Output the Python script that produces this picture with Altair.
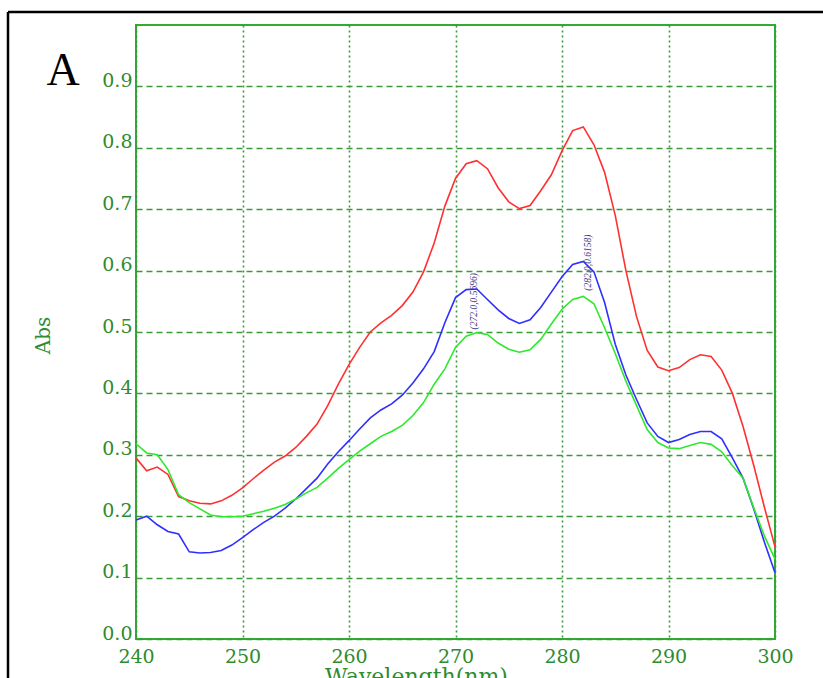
import altair as alt
import pandas as pd

wavelengths = list(range(240, 301))

red = [0.295, 0.274, 0.280, 0.268, 0.232, 0.225, 0.221, 0.220, 0.225, 0.234,
       0.246, 0.261, 0.275, 0.288, 0.298, 0.312, 0.330, 0.350, 0.380, 0.415,
       0.447, 0.475, 0.500, 0.515, 0.527, 0.543, 0.565, 0.598, 0.645, 0.705,
       0.750, 0.774, 0.779, 0.766, 0.735, 0.712, 0.701, 0.706, 0.730, 0.756,
       0.795, 0.828, 0.834, 0.805, 0.760, 0.690, 0.600, 0.525, 0.470, 0.443,
       0.437, 0.442, 0.455, 0.463, 0.460, 0.438, 0.400, 0.346, 0.283, 0.215,
       0.150]

blue = [0.194, 0.200, 0.186, 0.175, 0.171, 0.142, 0.140, 0.141, 0.144, 0.153,
        0.165, 0.178, 0.190, 0.200, 0.213, 0.228, 0.245, 0.262, 0.285, 0.305,
        0.323, 0.342, 0.360, 0.373, 0.383, 0.397, 0.417, 0.440, 0.468, 0.515,
        0.556, 0.569, 0.570, 0.553, 0.536, 0.522, 0.514, 0.520, 0.540, 0.565,
        0.590, 0.610, 0.615, 0.598, 0.548, 0.480, 0.430, 0.390, 0.352, 0.330,
        0.320, 0.325, 0.333, 0.338, 0.338, 0.326, 0.295, 0.262, 0.212, 0.158,
        0.108]

green = [0.318, 0.303, 0.300, 0.276, 0.235, 0.222, 0.212, 0.202, 0.199, 0.199,
         0.200, 0.204, 0.208, 0.213, 0.219, 0.228, 0.238, 0.247, 0.262, 0.278,
         0.292, 0.306, 0.318, 0.330, 0.338, 0.348, 0.364, 0.385, 0.415, 0.440,
         0.475, 0.493, 0.499, 0.496, 0.482, 0.472, 0.467, 0.471, 0.488, 0.513,
         0.537, 0.553, 0.558, 0.546, 0.507, 0.465, 0.420, 0.380, 0.341, 0.320,
         0.311, 0.310, 0.315, 0.320, 0.317, 0.305, 0.282, 0.262, 0.214, 0.168,
         0.130]

series_names = ["red", "blue", "green"]
series_colors = ["#ff3030", "#2f2fff", "#2ee82e"]

ann_x = [271.7, 282.4]
ann_y = [0.550, 0.613]
ann_text = ["(272.0,0.5696)", "(282.0,0.6158)"]

x_ticks = [240, 250, 260, 270, 280, 290, 300]
y_ticks = [0.0, 0.1, 0.2, 0.3, 0.4, 0.5, 0.6, 0.7, 0.8, 0.9]

rows = []
for name, vals in zip(series_names, [red, blue, green]):
    for w, v in zip(wavelengths, vals):
        rows.append({"wl": w, "abs": v, "series": name})
df = pd.DataFrame(rows)
ann_df = pd.DataFrame({"wl": ann_x, "abs": ann_y, "label": ann_text})
panel_df = pd.DataFrame({"t": ["A"]})

GRID = "#3a9a3a"
LABEL = "#2e8b2e"

x_scale = alt.Scale(domain=[240, 300], nice=False, zero=False)
y_scale = alt.Scale(domain=[0, 1.0], nice=False)

x_axis = alt.Axis(values=x_ticks, grid=True, gridDash=[2, 3], gridColor=GRID,
                  gridWidth=1.6, gridOpacity=1, domain=False, ticks=False,
                  labelFont="DejaVu Serif", labelFontSize=19, labelColor=LABEL,
                  labelPadding=8, labelFlush=False, labelOverlap=False,
                  title="Wavelength(nm)", titleFont="DejaVu Serif",
                  titleFontSize=22, titleColor=LABEL, titleFontWeight="normal",
                  titleX=280, titleY=27, titleBaseline="top", titleAlign="center")
y_axis = alt.Axis(values=y_ticks, format=".1f", grid=True, gridDash=[6, 4],
                  gridColor=GRID, gridWidth=1.6, gridOpacity=1, domain=False,
                  ticks=False, labelFont="DejaVu Serif", labelFontSize=19,
                  labelColor=LABEL, labelPadding=4, labelBaseline="alphabetic",
                  labelOverlap=False, labelFlush=False,
                  title="Abs", titleFont="DejaVu Serif", titleFontSize=20,
                  titleColor=LABEL, titleFontWeight="normal",
                  titleX=-93, titleY=310, titleAngle=270,
                  titleBaseline="middle", titleAlign="center")

lines = alt.Chart(df).mark_line(strokeWidth=1.6).encode(
    x=alt.X("wl:Q", scale=x_scale, axis=x_axis),
    y=alt.Y("abs:Q", scale=y_scale, axis=y_axis),
    color=alt.Color("series:N", scale=alt.Scale(domain=series_names, range=series_colors), legend=None),
    order=alt.Order("wl:Q"),
)

ann = alt.Chart(ann_df).mark_text(angle=270, fontSize=9.5, font="Liberation Serif",
                                  fontStyle="italic", color="#3a3a8a",
                                  align="center", baseline="middle").encode(
    x=alt.X("wl:Q", scale=x_scale),
    y=alt.Y("abs:Q", scale=y_scale),
    text="label:N",
)

panel = alt.Chart(panel_df).mark_text(fontSize=46, font="Liberation Serif",
                                      color="black", align="center",
                                      baseline="alphabetic").encode(
    text="t:N", x=alt.value(-73), y=alt.value(60))

top_line = alt.Chart(panel_df).mark_rule(color="black", strokeWidth=2.5).encode(
    x=alt.value(-128), x2=alt.value(700), y=alt.value(-13))
left_line = alt.Chart(panel_df).mark_rule(color="black", strokeWidth=2.5).encode(
    x=alt.value(-128), y=alt.value(-13), y2=alt.value(700))

chart = alt.layer(lines, ann, panel, top_line, left_line).properties(
    width=639, height=614,
    autosize=alt.AutoSizeParams(type="none"),
    padding={"left": 136, "top": 25, "right": 48, "bottom": 39},
    background="white",
).configure_view(stroke="#33aa33", strokeWidth=2)

chart.save("out.html", embed_options={"renderer": "svg", "actions": False})
